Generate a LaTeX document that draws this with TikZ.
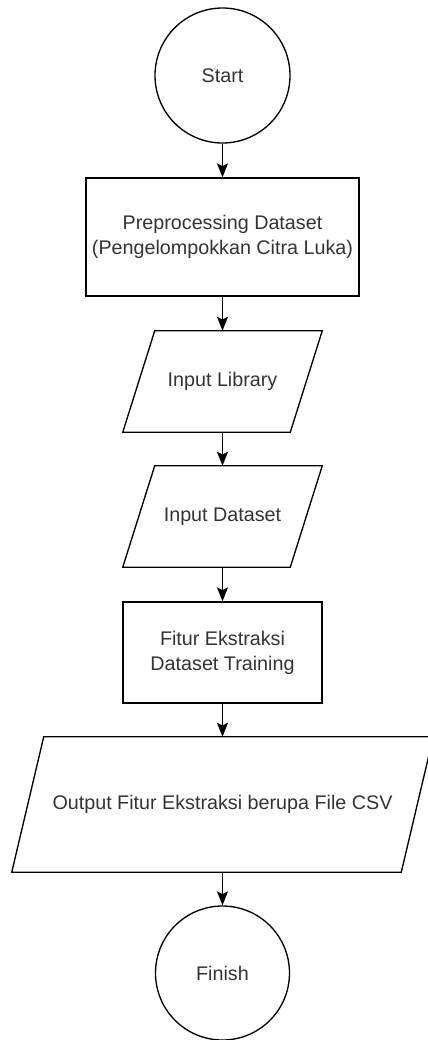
\documentclass[tikz,border=0pt]{standalone}
\usepackage{fontspec}
\setmainfont{Liberation Sans}
\usetikzlibrary{arrows.meta}
\begin{document}
\begin{tikzpicture}[x=0.75pt,y=-0.75pt,
  every node/.style={font=\fontsize{14.8}{18.75}\selectfont, text=black!80, align=center},
  circ/.style={circle, draw=black, line width=1pt, minimum size=101.25pt, inner sep=0pt},
  box/.style={rectangle, draw=black, line width=1pt, inner sep=0pt},
  slot/.style={rectangle, inner sep=0pt},
  para/.style={draw=black, line width=1pt, line join=miter},
  flow/.style={-{Stealth[length=10.5pt,width=8.25pt,inset=2pt]}, line width=1pt, draw=black}]

% page frame
\clip (0,0) rectangle (428,1040);

% terminals and process boxes
\node[circ] (start) at (222.5,75.5) {Start};
\node[box, minimum width=204.75pt, minimum height=88.5pt] (prep) at (222.5,237)
  {Preprocessing Dataset\\(Pengelompokkan Citra Luka)};

% input / output slots, outlined as parallelograms
\node[slot, minimum width=149.25pt, minimum height=75.75pt] (lib) at (222.5,381.5) {Input Library};
\draw[para] ([xshift=24pt]lib.north west) -- (lib.north east)
  -- ([xshift=-24pt]lib.south east) -- (lib.south west) -- cycle;

\node[slot, minimum width=149.25pt, minimum height=75.75pt] (data) at (222.5,516.5) {Input Dataset};
\draw[para] ([xshift=24pt]data.north west) -- (data.north east)
  -- ([xshift=-24pt]data.south east) -- (data.south west) -- cycle;

\node[box, minimum width=149.25pt, minimum height=75.75pt] (fitur) at (222.5,652.5)
  {Fitur Ekstraksi\\Dataset Training};

\node[slot, minimum width=315.75pt, minimum height=101.25pt] (out) at (222.5,804.5)
  {Output Fitur Ekstraksi berupa File CSV};
\draw[para] ([xshift=24pt]out.north west) -- (out.north east)
  -- ([xshift=-24pt]out.south east) -- (out.south west) -- cycle;

\node[circ, minimum size=100.5pt] (finish) at (222.5,973) {Finish};

% flow
\draw[flow] (start) -- (prep);
\draw[flow] (prep) -- (lib);
\draw[flow] (lib) -- (data);
\draw[flow] (data) -- (fitur);
\draw[flow] (fitur) -- (out);
\draw[flow] (out) -- (finish);
\end{tikzpicture}
\end{document}
